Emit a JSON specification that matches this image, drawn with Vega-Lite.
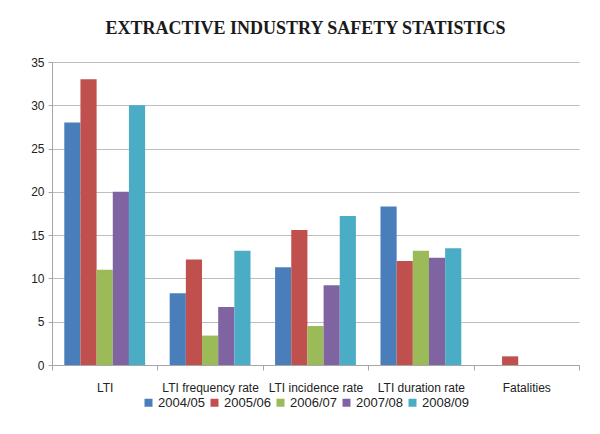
{
  "$schema": "https://vega.github.io/schema/vega-lite/v6.json",
  "autosize": "none",
  "width": 527,
  "height": 303,
  "padding": {"left": 52, "top": 62, "right": 21, "bottom": 69},
  "background": "white",
  "title": {
    "text": "EXTRACTIVE INDUSTRY SAFETY STATISTICS",
    "font": "Liberation Serif",
    "fontSize": 18,
    "fontWeight": "bold",
    "color": "#1a1a1a",
    "anchor": "middle",
    "baseline": "alphabetic",
    "offset": 4,
    "dx": -10
  },
  "data": {
    "values": [
      {"measure": "LTI", "year": "2004/05", "value": 28},
      {"measure": "LTI", "year": "2005/06", "value": 33},
      {"measure": "LTI", "year": "2006/07", "value": 11},
      {"measure": "LTI", "year": "2007/08", "value": 20},
      {"measure": "LTI", "year": "2008/09", "value": 30},
      {"measure": "LTI frequency rate", "year": "2004/05", "value": 8.3},
      {"measure": "LTI frequency rate", "year": "2005/06", "value": 12.2},
      {"measure": "LTI frequency rate", "year": "2006/07", "value": 3.4},
      {"measure": "LTI frequency rate", "year": "2007/08", "value": 6.7},
      {"measure": "LTI frequency rate", "year": "2008/09", "value": 13.2},
      {"measure": "LTI incidence rate", "year": "2004/05", "value": 11.3},
      {"measure": "LTI incidence rate", "year": "2005/06", "value": 15.6},
      {"measure": "LTI incidence rate", "year": "2006/07", "value": 4.5},
      {"measure": "LTI incidence rate", "year": "2007/08", "value": 9.2},
      {"measure": "LTI incidence rate", "year": "2008/09", "value": 17.2},
      {"measure": "LTI duration rate", "year": "2004/05", "value": 18.3},
      {"measure": "LTI duration rate", "year": "2005/06", "value": 12.0},
      {"measure": "LTI duration rate", "year": "2006/07", "value": 13.2},
      {"measure": "LTI duration rate", "year": "2007/08", "value": 12.4},
      {"measure": "LTI duration rate", "year": "2008/09", "value": 13.5},
      {"measure": "Fatalities", "year": "2004/05", "value": 0},
      {"measure": "Fatalities", "year": "2005/06", "value": 1},
      {"measure": "Fatalities", "year": "2006/07", "value": 0},
      {"measure": "Fatalities", "year": "2007/08", "value": 0},
      {"measure": "Fatalities", "year": "2008/09", "value": 0}
    ]
  },
  "mark": {"type": "bar"},
  "encoding": {
    "x": {
      "field": "measure",
      "type": "nominal",
      "sort": null,
      "scale": {"paddingInner": 0, "paddingOuter": 0},
      "axis": {
        "title": null,
        "labelAngle": 0,
        "tickBand": "extent",
        "labelPadding": 12,
        "tickSize": 5,
        "domainColor": "#a6a6a6",
        "tickColor": "#a6a6a6"
      }
    },
    "xOffset": {
      "field": "year",
      "type": "nominal",
      "scale": {"paddingInner": 0, "paddingOuter": 0.76}
    },
    "y": {
      "field": "value",
      "type": "quantitative",
      "scale": {"domain": [0, 35]},
      "axis": {
        "title": null,
        "values": [0, 5, 10, 15, 20, 25, 30, 35],
        "tickSize": 4,
        "labelPadding": 4,
        "domainColor": "#a6a6a6",
        "tickColor": "#a6a6a6",
        "gridColor": "#bdbdbd",
        "gridWidth": 1.2
      }
    },
    "color": {
      "field": "year",
      "type": "nominal",
      "scale": {
        "domain": ["2004/05", "2005/06", "2006/07", "2007/08", "2008/09"],
        "range": ["#4a7ebb", "#c0504d", "#9bbb59", "#8064a2", "#4bacc6"]
      },
      "legend": {
        "title": null,
        "orient": "none",
        "legendX": 90,
        "legendY": 334,
        "direction": "horizontal",
        "symbolType": "square",
        "symbolSize": 64,
        "symbolStrokeWidth": 0,
        "labelFontSize": 13,
        "labelOffset": 3,
        "columnPadding": 3
      }
    }
  },
  "config": {
    "view": {"stroke": null},
    "axis": {
      "labelFont": "Liberation Sans",
      "labelFontSize": 12,
      "labelColor": "#222222"
    },
    "legend": {
      "labelFont": "Liberation Sans",
      "labelColor": "#222222"
    }
  }
}
